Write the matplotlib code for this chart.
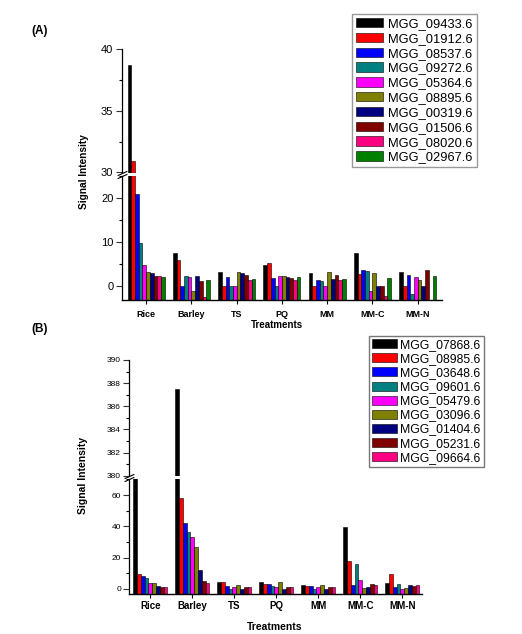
import numpy as np
import matplotlib.pyplot as plt
from matplotlib.ticker import MultipleLocator

plt.rcParams["font.family"] = ["Liberation Sans", "DejaVu Sans"]

treatments = ["Rice", "Barley", "TS", "PQ", "MM", "MM-C", "MM-N"]

# Panel A
genes_a = ["MGG_09433.6", "MGG_01912.6", "MGG_08537.6", "MGG_09272.6", "MGG_05364.6",
           "MGG_08895.6", "MGG_00319.6", "MGG_01506.6", "MGG_08020.6", "MGG_02967.6"]
# rows = genes, columns = treatments
values_a = [
    [38.7, 7.6, 3.2, 4.7, 2.8, 7.6, 3.2],
    [30.9, 5.9, 0.0, 5.3, 0.0, 2.6, 0.0],
    [21.1, 0.0, 2.0, 1.8, 1.3, 3.6, 2.4],
    [9.8, 2.3, 0.0, 0.0, 1.0, 3.3, -1.9],
    [4.7, 2.0, 0.0, 2.3, 0.0, -1.1, 1.9],
    [3.2, -1.2, 3.2, 2.3, 3.1, 2.8, 1.3],
    [3.0, 2.2, 2.8, 2.0, 1.5, 0.0, 0.0],
    [2.3, 1.1, 2.5, 1.8, 2.4, 0.0, 3.7],
    [2.2, -2.6, 1.3, 1.4, 1.3, -2.4, -3.3],
    [2.0, 1.3, 1.6, 2.1, 1.6, 1.7, 2.3],
]

# Panel B
genes_b = ["MGG_07868.6", "MGG_08985.6", "MGG_03648.6", "MGG_09601.6", "MGG_05479.6",
           "MGG_03096.6", "MGG_01404.6", "MGG_05231.6", "MGG_09664.6"]
values_b = [
    [75.0, 387.5, 4.2, 4.7, 2.6, 39.8, 4.0],
    [9.4, 58.3, 4.5, 3.4, 2.1, 17.7, 9.4],
    [8.3, 42.0, 2.1, 3.0, 2.1, 2.3, 1.1],
    [6.8, 36.4, 0.0, 2.1, 0.0, 15.7, 3.0],
    [3.6, 33.4, 1.5, 1.3, 1.3, 5.5, 0.0],
    [4.0, 26.6, 2.6, 4.7, 2.6, 0.6, 0.9],
    [2.1, 12.1, 0.0, 0.0, 0.0, 1.5, 2.3],
    [1.5, 5.1, 1.5, 1.3, 1.5, 3.0, 2.1],
    [1.5, 3.6, 1.2, 1.3, 1.1, 2.6, 2.3],
]

colors = ["#000000", "#FF0000", "#0000FF", "#008080", "#FF00FF",
          "#808000", "#000080", "#800000", "#FF0080", "#008000"]

W, H = 522, 634
fig = plt.figure(figsize=(W / 100, H / 100), dpi=100)


def px_axes(left, right, top, bottom):
    return fig.add_axes([left / W, 1 - bottom / H, (right - left) / W, (bottom - top) / H])


def draw_panel(x0, x1, up_px, lo_px, up_lim, lo_lim, xlim, group_w,
               genes, values, up_major, up_minor, lo_major, lo_minor, tick_fs, xfs, xpad):
    ax_up = px_axes(x0, x1, *up_px)
    ax_lo = px_axes(x0, x1, *lo_px)
    n = len(genes)
    bw = group_w / n
    x = np.arange(len(treatments))
    for ax in (ax_up, ax_lo):
        for i, g in enumerate(genes):
            v = np.array(values[i])
            ax.bar(x - group_w / 2 + bw * (i + 0.5), v - lo_lim[0], bottom=lo_lim[0], width=bw,
                   color=colors[i], edgecolor="black", linewidth=0.4, label=g)
        ax.set_xlim(*xlim)
        ax.spines["top"].set_visible(False)
        ax.spines["right"].set_visible(False)
        ax.tick_params(axis="y", which="major", direction="out", length=4, width=0.8,
                       labelsize=tick_fs, pad=2, colors="#333333", labelcolor="black")
        ax.tick_params(axis="y", which="minor", direction="out", length=2.5, width=0.8)
        ax.spines["left"].set_linewidth(0.9)
    ax_up.set_ylim(*up_lim)
    ax_lo.set_ylim(*lo_lim)
    ax_up.yaxis.set_major_locator(MultipleLocator(up_major))
    ax_up.yaxis.set_minor_locator(MultipleLocator(up_minor))
    ax_lo.yaxis.set_major_locator(MultipleLocator(lo_major))
    ax_lo.yaxis.set_minor_locator(MultipleLocator(lo_minor))
    ax_up.spines["bottom"].set_visible(False)
    ax_up.set_xticks([])
    ax_lo.spines["bottom"].set_linewidth(1.0)
    ax_lo.set_xticks(x)
    ax_lo.set_xticklabels(treatments, fontsize=xfs, fontweight="bold")
    ax_lo.tick_params(axis="x", direction="out", length=3, width=0.8, pad=xpad)
    # break marks on the y axis
    kw = dict(marker=[(-1, -0.45), (1, 0.45)], markersize=7, linestyle="none",
              color="black", mec="black", mew=0.8, clip_on=False)
    ax_up.plot([0], [0], transform=ax_up.transAxes, **kw)
    ax_lo.plot([0], [1], transform=ax_lo.transAxes, **kw)
    return ax_up, ax_lo


a_up, a_lo = draw_panel(121.7, 441.7, (49, 172.5), (176.5, 300), (30, 40), (-3.27, 25.0),
                        (-0.54, 6.53), 0.82, genes_a, values_a, 5, 2.5, 10, 5, 8, 6.5, 4)
b_up, b_lo = draw_panel(129.3, 421.7, (360, 475.7), (479, 594.3), (380, 390), (-3.4, 70.3),
                        (-0.5, 6.46), 0.81, genes_b, values_b, 2, 1, 20, 10, 6, 7, 2)

h, l = a_lo.get_legend_handles_labels()
fig.legend(h, l, loc="upper left", bbox_to_anchor=(352 / W, 1 - 14 / H), fontsize=9.3,
           frameon=True, fancybox=False, edgecolor="#999999", framealpha=1,
           handlelength=2.1, handleheight=0.75, labelspacing=0.2, handletextpad=0.4,
           borderpad=0.3, borderaxespad=0)
h, l = b_lo.get_legend_handles_labels()
fig.legend(h, l, loc="upper left", bbox_to_anchor=(369 / W, 1 - 336 / H), fontsize=8.8,
           frameon=True, fancybox=False, edgecolor="#777777", framealpha=1,
           handlelength=2.0, handleheight=0.75, labelspacing=0.17, handletextpad=0.3,
           borderpad=0.25, borderaxespad=0)

fig.text(40 / W, 1 - 31 / H, "(A)", fontsize=8.5, fontweight="bold", ha="center", va="center")
fig.text(40 / W, 1 - 329 / H, "(B)", fontsize=8.5, fontweight="bold", ha="center", va="center")
fig.text(84 / W, 1 - 172 / H, "Signal Intensity", fontsize=7.3, fontweight="bold",
         rotation=90, ha="center", va="center")
fig.text(83 / W, 1 - 475 / H, "Signal Intensity", fontsize=7.5, fontweight="bold",
         rotation=90, ha="center", va="center")
fig.text(277 / W, 1 - 325 / H, "Treatments", fontsize=7, fontweight="bold", ha="center", va="center")
fig.text(275 / W, 1 - 627 / H, "Treatments", fontsize=7.5, fontweight="bold", ha="center", va="center")

fig.savefig("out.png", dpi=100)
